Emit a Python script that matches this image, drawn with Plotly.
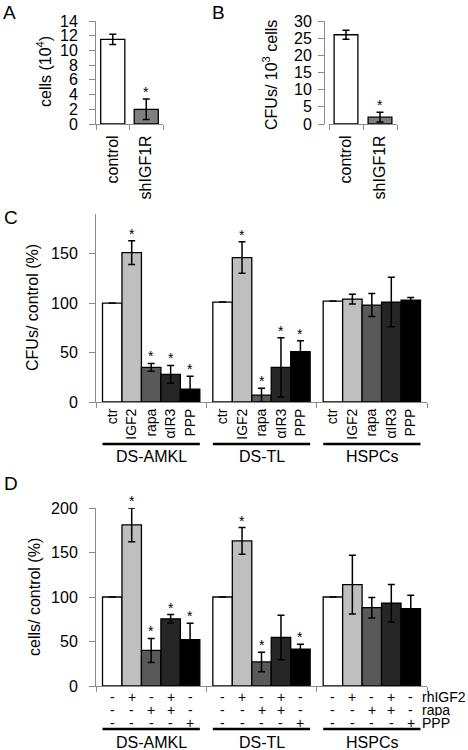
import plotly.graph_objects as go

# ---------------- data ----------------
a_categories = ["control", "shIGF1R"]
a_values = [11.5, 2.0]
a_errors = [0.7, 1.4]
a_stars = [False, True]

b_categories = ["control", "shIGF1R"]
b_values = [26.0, 2.0]
b_errors = [1.3, 1.4]
b_stars = [False, True]

groups = ["DS-AMKL", "DS-TL", "HSPCs"]
c_treatments = ["ctr", "IGF2", "rapa", "αIR3", "PPP"]
c_values = [
    [100, 101, 102],   # ctr
    [151, 146, 104],   # IGF2
    [35, 7, 98],       # rapa
    [28, 35, 101],     # aIR3
    [13, 51, 103],     # PPP
]
c_errors = [
    [None, None, None],
    [12, 16, 5],
    [4, 7, 11.7],
    [9, 30, 25],
    [13, 11, 2.5],
]
c_stars = [
    [0, 0, 0],
    [1, 1, 0],
    [1, 1, 0],
    [1, 1, 0],
    [1, 1, 0],
]

d_rows = ["rhIGF2", "rapa", "PPP"]
d_signs = [  # per treatment: rhIGF2, rapa, PPP
    ["-", "-", "-"],
    ["+", "-", "-"],
    ["-", "+", "-"],
    ["+", "+", "-"],
    ["-", "-", "+"],
]
d_values = [
    [100, 100, 100],
    [181, 163, 114],
    [40, 27, 88],
    [75.5, 54.5, 93],
    [52, 41.5, 87],
]
d_errors = [
    [None, None, None],
    [19, 15, 33],
    [13.5, 11, 11.5],
    [4.7, 25, 21],
    [18.6, 5.5, 15],
]
d_stars = [
    [0, 0, 0],
    [1, 1, 0],
    [1, 1, 0],
    [1, 0, 0],
    [1, 1, 0],
]

# ---------------- style ----------------
W, H = 468, 750
FONT = "Liberation Sans, Arial, sans-serif"
COLORS = ["#ffffff", "#bfbfbf", "#595959", "#262626", "#000000"]
AB_COLORS = ["#ffffff", "#7f7f7f"]
AXC = "#8c8c8c"
BAR_W = 0.1764


def px(x):
    return x / W


def py(y):
    return 1 - y / H


fig = go.Figure()
annotations = []
shapes = []

ERR = dict(type="data", symmetric=True, color="black", thickness=1.5, width=3.5)
LINE = dict(color="black", width=1.3)


def star_ann(x, y, xref, yref):
    return dict(x=x, y=y, xref=xref, yref=yref, text="*", showarrow=False,
                yanchor="bottom", yshift=-3, font=dict(size=14, color="#000000"))


# Panel A
fig.add_trace(go.Bar(x=a_categories, y=a_values, width=0.72,
                     marker=dict(color=AB_COLORS, line=LINE),
                     error_y=dict(array=a_errors, **ERR), xaxis="x", yaxis="y",
                     showlegend=False))
for c, v, e, s in zip(a_categories, a_values, a_errors, a_stars):
    if s:
        annotations.append(star_ann(c, v + e, "x", "y"))

# Panel B
fig.add_trace(go.Bar(x=b_categories, y=b_values, width=0.7,
                     marker=dict(color=AB_COLORS, line=LINE),
                     error_y=dict(array=b_errors, **ERR), xaxis="x2", yaxis="y2",
                     showlegend=False))
for c, v, e, s in zip(b_categories, b_values, b_errors, b_stars):
    if s:
        annotations.append(star_ann(c, v + e, "x2", "y2"))


def grouped_panel(values, errors, stars, xa, ya):
    positions = []
    for i in range(len(values)):
        xs = [g + (i - 2) * BAR_W for g in range(len(groups))]
        positions.append(xs)
        fig.add_trace(go.Bar(x=xs, y=values[i], width=BAR_W,
                             marker=dict(color=COLORS[i], line=LINE),
                             error_y=dict(array=errors[i], **ERR),
                             xaxis=xa, yaxis=ya, showlegend=False))
        for g in range(len(groups)):
            if stars[i][g]:
                annotations.append(star_ann(xs[g], values[i][g] + errors[i][g],
                                            xa, ya))
    return positions


c_pos = grouped_panel(c_values, c_errors, c_stars, "x3", "y3")
d_pos = grouped_panel(d_values, d_errors, d_stars, "x4", "y4")

# treatment tick labels for C
c_tickvals, c_ticktext = [], []
for i, t in enumerate(c_treatments):
    for xv in c_pos[i]:
        c_tickvals.append(xv)
        c_ticktext.append(t)

# group underline + labels
for xa, line_y, lab_y in [("x3", 444, 457), ("x4", 729, 742)]:
    for g, name in enumerate(groups):
        shapes.append(dict(type="line", xref=xa, yref="paper",
                           x0=g - 2.5 * BAR_W, x1=g + 2.5 * BAR_W,
                           y0=py(line_y), y1=py(line_y),
                           line=dict(color="black", width=2.6)))
        annotations.append(dict(x=g, y=py(lab_y), xref=xa, yref="paper",
                                text=name, showarrow=False, yanchor="middle",
                                font=dict(size=16, color="black")))

# +/- table for D
row_y = [697, 710, 723]
for i in range(len(d_signs)):
    for g in range(len(groups)):
        for r in range(len(d_rows)):
            annotations.append(dict(x=d_pos[i][g], y=py(row_y[r]), xref="x4",
                                    yref="paper", text=d_signs[i][r],
                                    showarrow=False, yanchor="middle",
                                    height=12, borderpad=0,
                                    font=dict(size=14, color="black")))
for r, name in enumerate(d_rows):
    annotations.append(dict(x=px(421), y=py(row_y[r]), xref="paper", yref="paper",
                            text=name, showarrow=False, xanchor="left",
                            yanchor="middle", height=12, borderpad=0,
                            font=dict(size=14, color="black")))

# y titles
for text, xc, yc in [("cells (10<sup>4</sup>)", 44, 72),
                     ("CFUs/ 10<sup>3</sup> cells", 270, 75),
                     ("CFUs/ control (%)", 32, 308),
                     ("cells/ control (%)", 34, 597)]:
    annotations.append(dict(x=px(xc), y=py(yc), xref="paper", yref="paper",
                            text=text, textangle=-90, showarrow=False,
                            xanchor="center", yanchor="middle",
                            font=dict(size=16, color="black")))

# panel letters
for text, xc, yc in [("A", 9, 13), ("B", 218, 13), ("C", 11, 218), ("D", 11, 483)]:
    annotations.append(dict(x=px(xc), y=py(yc), xref="paper", yref="paper",
                            text=text, showarrow=False, xanchor="center",
                            yanchor="middle", font=dict(size=19, color="black")))

yax_common = dict(showline=True, linecolor=AXC, linewidth=1, ticks="outside",
                  ticklen=6, tickcolor=AXC, showgrid=False, zeroline=False,
                  automargin=False, tickfont=dict(size=16, color="black"))
xcat_common = dict(showline=True, linecolor=AXC, linewidth=1, ticks="outside",
                   ticklen=5, tickcolor=AXC, tickson="boundaries", showgrid=False,
                   zeroline=False, automargin=False, tickangle=-90,
                   tickfont=dict(size=16, color="black"))
overlay_common = dict(side="bottom", range=[-0.5, 2.5], tickmode="array",
                      tickvals=[-0.5, 0.5, 1.5, 2.5], ticks="outside", ticklen=5,
                      tickcolor=AXC, showticklabels=False, showgrid=False,
                      zeroline=False, showline=False, automargin=False)

fig.update_layout(
    width=W, height=H, margin=dict(l=0, r=0, t=0, b=0, pad=0),
    paper_bgcolor="white", plot_bgcolor="white",
    font=dict(family=FONT, color="black"),
    barmode="overlay",
    showlegend=False,
    xaxis=dict(domain=[px(96), px(163)], anchor="y", range=[-0.5, 1.5],
               ticklabelstandoff=4, **xcat_common),
    yaxis=dict(domain=[py(124), py(21)], anchor="x", range=[0, 14], dtick=2,
               ticklabelstandoff=8, **yax_common),
    xaxis2=dict(domain=[px(329), px(397)], anchor="y2", range=[-0.5, 1.5],
                ticklabelstandoff=4, **xcat_common),
    yaxis2=dict(domain=[py(124), py(21)], anchor="free", position=px(324),
                range=[0, 30], dtick=5, ticklabelstandoff=3, **yax_common),
    xaxis3=dict(domain=[px(96), px(427)], anchor="y3", range=[-0.5, 2.5],
                showline=True, linecolor=AXC, ticks="", showgrid=False,
                zeroline=False, automargin=False, tickmode="array",
                tickvals=c_tickvals, ticktext=c_ticktext, tickangle=-90,
                tickfont=dict(size=14, color="black")),
    yaxis3=dict(domain=[py(402), py(214)], anchor="x3", range=[0, 190],
                tickvals=[0, 50, 100, 150], ticklabelstandoff=8, **yax_common),
    xaxis4=dict(domain=[px(96), px(427)], anchor="y4", range=[-0.5, 2.5],
                showline=True, linecolor=AXC, ticks="", showgrid=False,
                zeroline=False, automargin=False, showticklabels=False),
    yaxis4=dict(domain=[py(686), py(508)], anchor="x4", range=[0, 200],
                dtick=50, ticklabelstandoff=8, **yax_common),
    xaxis5=dict(overlaying="x3", anchor="y3", **overlay_common),
    xaxis6=dict(overlaying="x4", anchor="y4", **overlay_common),
    annotations=annotations,
    shapes=shapes,
)

# invisible traces so the overlay axes are rendered
fig.add_trace(go.Scatter(x=[0], y=[0], xaxis="x5", yaxis="y3", mode="markers",
                         marker=dict(opacity=0), hoverinfo="skip", showlegend=False))
fig.add_trace(go.Scatter(x=[0], y=[0], xaxis="x6", yaxis="y4", mode="markers",
                         marker=dict(opacity=0), hoverinfo="skip", showlegend=False))

fig.write_html("out.html",
               config={"displayModeBar": False},
               post_script="document.body.style.margin='0px';"
                           "document.body.style.padding='0px';")
